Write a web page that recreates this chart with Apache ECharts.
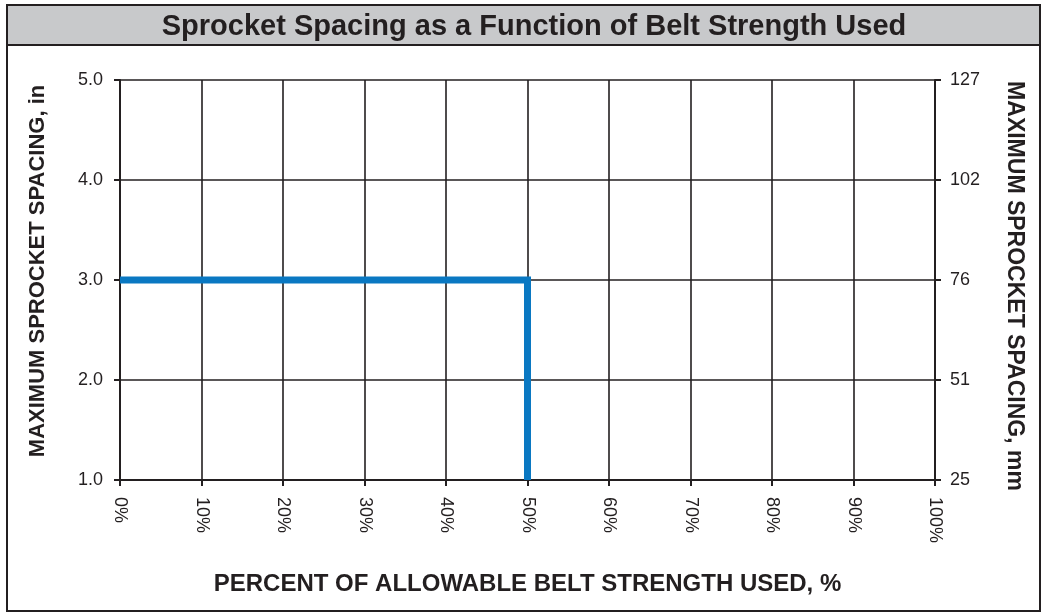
<!DOCTYPE html>
<html><head><meta charset="utf-8">
<script src="https://cdn.jsdelivr.net/npm/echarts@6/dist/echarts.min.js"></script>
<style>html,body{margin:0;padding:0;background:#fff}#c{width:1043px;height:613px}</style>
</head><body><div id="c"></div>
<script>
var titleText = 'Sprocket Spacing as a Function of Belt Strength Used';
var xTitle = 'PERCENT OF ALLOWABLE BELT STRENGTH USED, %';
var yLeftTitle = 'MAXIMUM SPROCKET SPACING, in';
var yRightTitle = 'MAXIMUM SPROCKET SPACING, mm';
var xTickLabels = ['0%','10%','20%','30%','40%','50%','60%','70%','80%','90%','100%'];
var yLeftTickLabels = ['1.0','2.0','3.0','4.0','5.0'];
var yRightTickLabels = ['25','51','76','102','127'];
var linePct = [0, 50, 50];
var lineIn = [3.0, 3.0, 1.0];

var font = '"Liberation Sans", Arial, Helvetica, sans-serif';
var chart = echarts.init(document.getElementById('c'), null, {renderer:'canvas'});
var ink = '#231f20';
chart.setOption({
  animation: false,
  backgroundColor: '#fff',
  graphic: [
    {type:'rect', shape:{x:7, y:5, width:1033, height:40}, style:{fill:'#c8c9cb', stroke:ink, lineWidth:2}, z:0},
    {type:'rect', shape:{x:7, y:45, width:1033, height:566}, style:{fill:'none', stroke:ink, lineWidth:2}, z:0}
  ],
  title: {
    text: titleText, left: 529, top: 7, textAlign: 'center',
    textStyle: {fontFamily: font, fontWeight: 'bold', fontSize: 29, color: ink}
  },
  grid: {left: 120, right: 108, top: 80, bottom: 133, containLabel: false},
  xAxis: {
    type: 'value', min: 0, max: 100, interval: 10,
    name: xTitle, nameLocation: 'middle', nameGap: 92,
    nameTextStyle: {fontFamily: font, fontWeight: 'bold', fontSize: 24, color: ink},
    axisLine: {show: true, lineStyle: {color: ink, width: 2}},
    axisTick: {show: true, length: 6, lineStyle: {color: ink, width: 2}},
    splitLine: {show: true, lineStyle: {color: ink, width: 1.6}},
    axisLabel: {
      rotate: -90, margin: 17, fontFamily: font, fontSize: 18, color: ink,
      formatter: function (v) { return xTickLabels[Math.round(v / 10)]; }
    }
  },
  yAxis: [
    {
      type: 'value', min: 1, max: 5, interval: 1, position: 'left',
      name: yLeftTitle, nameLocation: 'middle', nameGap: 71, nameRotate: 90,
      nameTextStyle: {fontFamily: font, fontWeight: 'bold', fontSize: 22, color: ink, padding: [0, 0, 0, 18]},
      axisLine: {show: true, lineStyle: {color: ink, width: 2}},
      axisTick: {show: true, length: 6, lineStyle: {color: ink, width: 2}},
      splitLine: {show: true, lineStyle: {color: ink, width: 1.6}},
      axisLabel: {
        margin: 17, fontFamily: font, fontSize: 18, color: ink,
        formatter: function (v) { return yLeftTickLabels[Math.round(v - 1)]; }
      }
    },
    {
      type: 'value', min: 1, max: 5, interval: 1, position: 'right',
      name: yRightTitle, nameLocation: 'middle', nameGap: 68, nameRotate: -90,
      nameTextStyle: {fontFamily: font, fontWeight: 'bold', fontSize: 23, color: ink, padding: [0, 0, 0, 12]},
      axisLine: {show: true, lineStyle: {color: ink, width: 2}},
      axisTick: {show: true, length: 6, lineStyle: {color: ink, width: 2}},
      splitLine: {show: false},
      axisLabel: {
        margin: 15, fontFamily: font, fontSize: 18, color: ink,
        formatter: function (v) { return yRightTickLabels[Math.round(v - 1)]; }
      }
    }
  ],
  series: [{
    type: 'line', yAxisIndex: 0, symbol: 'none', z: 5,
    data: linePct.map(function (x, i) { return [x, lineIn[i]]; }),
    lineStyle: {color: '#0a78c2', width: 7, join: 'miter', cap: 'butt'}
  }]
});
</script></body></html>
